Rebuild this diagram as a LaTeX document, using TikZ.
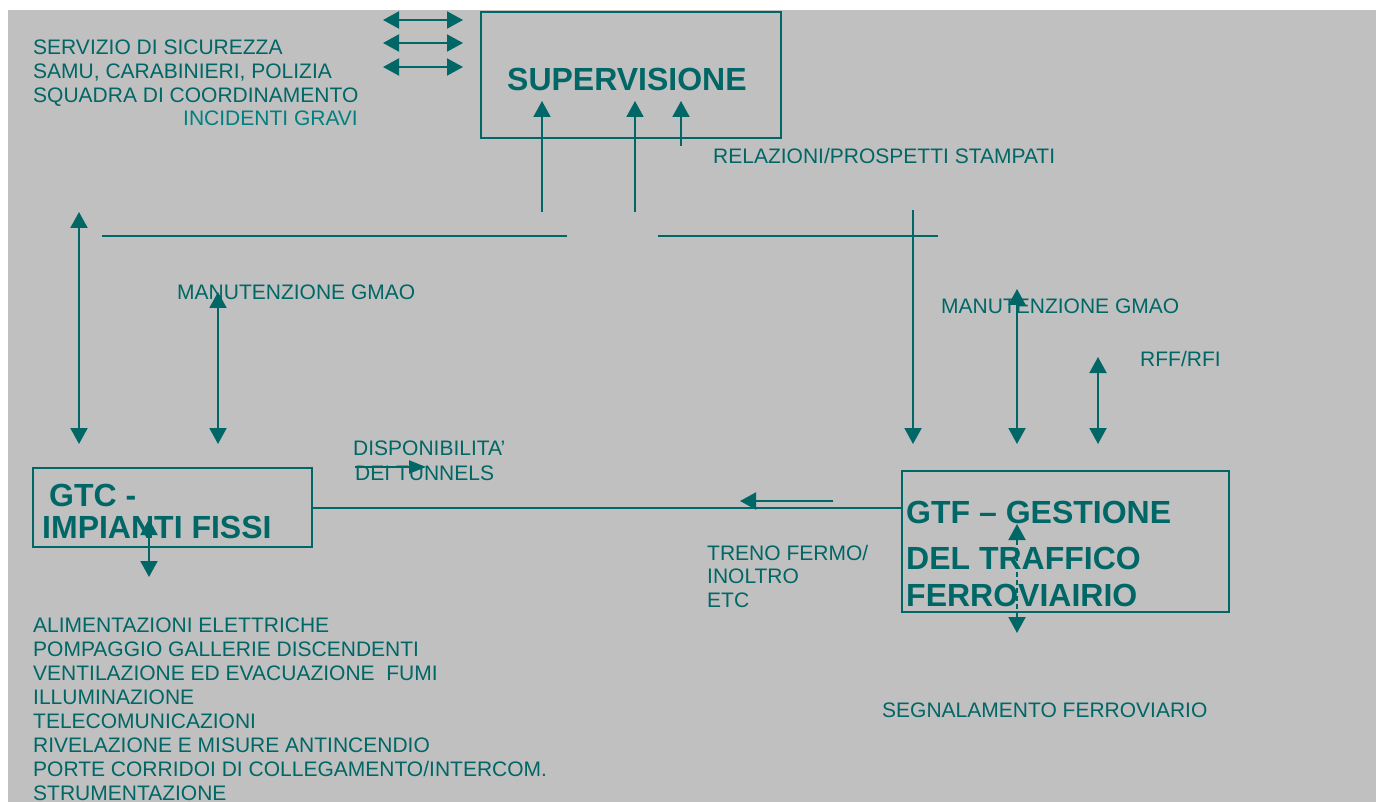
\documentclass[tikz,border=0pt]{standalone}
\usepackage{fontspec}
\setmainfont{Liberation Sans}
\usetikzlibrary{arrows.meta}
\definecolor{tealA}{RGB}{0,102,102}
\definecolor{tealB}{RGB}{0,128,128}
\definecolor{bggray}{RGB}{192,192,192}
\tikzset{
  lbl/.style={anchor=base west, inner sep=0pt, text=tealA, font=\fontsize{21}{24}\selectfont},
  big/.style={anchor=base west, inner sep=0pt, text=tealA, font=\fontsize{32}{36}\selectfont\bfseries},
  boxnode/.style={draw=tealA, line width=2pt, inner sep=0pt},
  conn/.style={draw=tealA, line width=2pt},
  onehead/.style={conn, -{Triangle[length=16pt,width=17pt]}},
  twohead/.style={conn, {Triangle[length=16pt,width=17pt]}-{Triangle[length=16pt,width=17pt]}},
  smallhead/.style={conn, -{Triangle[length=17pt,width=13pt]}},
}
\begin{document}
\begin{tikzpicture}[x=1pt,y=-1pt]
\useasboundingbox (0,0) rectangle (1376,802);
\fill[white] (0,0) rectangle (1376,802);
\fill[bggray] (8,10) rectangle (1376,802);

% boxes
\node[boxnode, minimum width=300pt, minimum height=126pt] (sup) at (631,75) {};
\node[boxnode, minimum width=279pt, minimum height=79pt] (gtc) at (172.5,507.5) {};
\node[boxnode, minimum width=327pt, minimum height=141pt] (gtf) at (1065.5,541.5) {};

% box texts
\node[big] (tsup) at (507,91) {SUPERVISIONE};
\node[big] (tgtc1) at (49,506) {GTC -};
\node[big] (tgtc2) at (42,538) {IMPIANTI FISSI};
\node[big] (tgtf1) at (906,523) {GTF – GESTIONE};
\node[big] (tgtf2) at (906,569) {DEL TRAFFICO};
\node[big] (tgtf3) at (906,606) {FERROVIAIRIO};

% top-left labels
\node[lbl] (s1) at (33,55) {SERVIZIO DI SICUREZZA};
\node[lbl] (s2) at (33,79) {SAMU, CARABINIERI, POLIZIA};
\node[lbl] (s3) at (33,103) {SQUADRA DI COORDINAMENTO};
\node[lbl, text=tealB] (s4) at (183,126) {INCIDENTI GRAVI};

% other labels
\node[lbl] (rel) at (713,164) {RELAZIONI/PROSPETTI STAMPATI};
\node[lbl] (man1) at (177,300) {MANUTENZIONE GMAO};
\node[lbl] (man2) at (941,313) {MANUTENZIONE GMAO};
\node[lbl] (rff) at (1140,366) {RFF/RFI};
\node[lbl] (disp1) at (353,455) {DISPONIBILITA’};
\node[lbl] (disp2) at (355,480) {DEI TUNNELS};
\node[lbl] (tr1) at (707,560) {TRENO FERMO/};
\node[lbl] (tr2) at (707,583) {INOLTRO};
\node[lbl] (tr3) at (707,607) {ETC};
\node[lbl] (seg) at (882,717) {SEGNALAMENTO FERROVIARIO};

% bottom-left list
\node[lbl] (l1) at (33,632) {ALIMENTAZIONI ELETTRICHE};
\node[lbl] (l2) at (33,656) {POMPAGGIO GALLERIE DISCENDENTI};
\node[lbl] (l3) at (33,680) {VENTILAZIONE ED EVACUAZIONE\ \ FUMI};
\node[lbl] (l4) at (33,704) {ILLUMINAZIONE};
\node[lbl] (l5) at (33,728) {TELECOMUNICAZIONI};
\node[lbl] (l6) at (33,752) {RIVELAZIONE E MISURE ANTINCENDIO};
\node[lbl] (l7) at (33,776) {PORTE CORRIDOI DI COLLEGAMENTO/INTERCOM.};
\node[lbl] (l8) at (33,800) {STRUMENTAZIONE};

% coordinates
\coordinate (da1a) at (383,20);  \coordinate (da1b) at (463,20);
\coordinate (da2a) at (383,43);  \coordinate (da2b) at (463,43);
\coordinate (da3a) at (383,67);  \coordinate (da3b) at (463,67);
\coordinate (u1a) at (542,212);  \coordinate (u1b) at (542,101);
\coordinate (u2a) at (635,212);  \coordinate (u2b) at (635,101);
\coordinate (u3a) at (681,146);  \coordinate (u3b) at (681,101);
\coordinate (hl1) at (102,236);  \coordinate (hl2) at (567,236);
\coordinate (hr1) at (658,236);  \coordinate (hr2) at (938,236);
\coordinate (v1a) at (913,210);  \coordinate (v1b) at (913,444);
\coordinate (lv1a) at (79,212);  \coordinate (lv1b) at (79,444);
\coordinate (lv2a) at (218,292); \coordinate (lv2b) at (218,444);
\coordinate (rv1a) at (1017,289); \coordinate (rv1b) at (1017,444);
\coordinate (rv2a) at (1098,357); \coordinate (rv2b) at (1098,444);
\coordinate (ga) at (149,519);   \coordinate (gb) at (149,577);
\coordinate (fa) at (1017,524);  \coordinate (fb) at (1017,633);
\coordinate (ta) at (355,467);   \coordinate (tb) at (426,467);
\coordinate (la) at (833,501);   \coordinate (lb) at (740,501);

% connectors
\draw[twohead] (da1a) -- (da1b);
\draw[twohead] (da2a) -- (da2b);
\draw[twohead] (da3a) -- (da3b);
\draw[onehead] (u1a) -- (u1b);
\draw[onehead] (u2a) -- (u2b);
\draw[onehead] (u3a) -- (u3b);
\draw[conn] (hl1) -- (hl2);
\draw[conn] (hr1) -- (hr2);
\draw[onehead] (v1a) -- (v1b);
\draw[twohead] (lv1a) -- (lv1b);
\draw[twohead] (lv2a) -- (lv2b);
\draw[twohead] (rv1a) -- (rv1b);
\draw[twohead] (rv2a) -- (rv2b);
\draw[twohead] (ga) -- (gb);
\draw[twohead, dash pattern=on 5pt off 3pt] (fa) -- (fb);
\draw[smallhead] (ta) -- (tb);
\draw[onehead] (la) -- (lb);
\draw[conn] (gtc.east) -- (gtc.east -| gtf.west);
\end{tikzpicture}
\end{document}
